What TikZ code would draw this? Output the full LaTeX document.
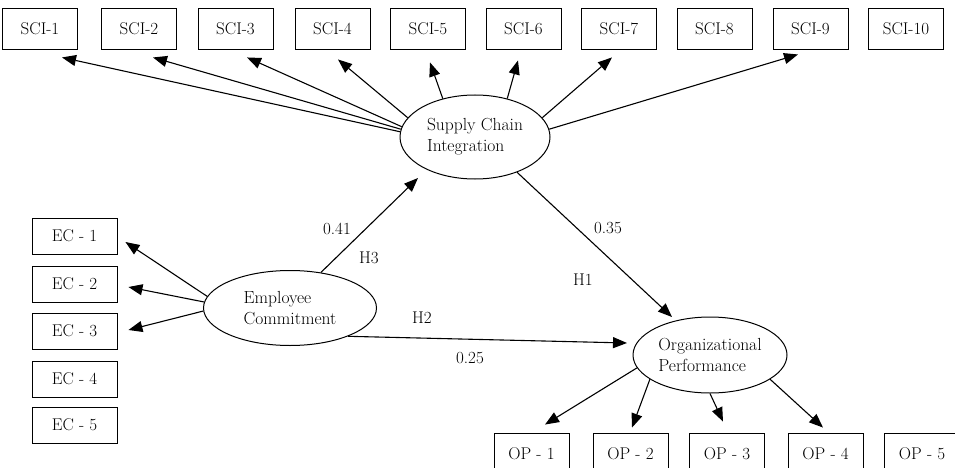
\documentclass[tikz,border=0pt]{standalone}
\usetikzlibrary{shapes.geometric,arrows.meta,calc}
\begin{document}
\begin{tikzpicture}[x=1pt,y=-1pt,
  box/.style={draw,line width=0.9pt,minimum width=75pt,minimum height=41pt,inner sep=0pt,font=\fontsize{17}{20}\selectfont},
  ecbox/.style={box,minimum width=85pt,minimum height=36pt},
  lat/.style={draw,ellipse,line width=1pt,inner ysep=0pt,inner xsep=-6pt,align=left,font=\fontsize{17.5}{21}\selectfont},
  arr/.style={line width=1.1pt,-{Triangle[length=14pt,width=11pt]}},
  lbl/.style={font=\fontsize{17}{20}\selectfont,inner sep=0pt}]
\useasboundingbox (0,0) rectangle (955,468);
% SCI indicators
\node[box] (s1) at (40,28.5) {SCI-1};
\node[box] (s2) at (139,28.5) {SCI-2};
\node[box] (s3) at (235.5,28.5) {SCI-3};
\node[box] (s4) at (332.5,28.5) {SCI-4};
\node[box] (s5) at (428,28.5) {SCI-5};
\node[box] (s6) at (523.5,28.5) {SCI-6};
\node[box] (s7) at (619,28.5) {SCI-7};
\node[box] (s8) at (714.5,28.5) {SCI-8};
\node[box] (s9) at (810.5,28.5) {SCI-9};
\node[box] (s10) at (906,28.5) {SCI-10};
% EC indicators
\node[ecbox] (e1) at (74.5,236) {EC - 1};
\node[ecbox] (e2) at (74.5,284) {EC - 2};
\node[ecbox] (e3) at (74.5,331) {EC - 3};
\node[ecbox] (e4) at (74.5,379) {EC - 4};
\node[ecbox] (e5) at (74.5,425) {EC - 5};
% OP indicators
\node[box] (o1) at (531.5,453.5) {OP - 1};
\node[box] (o2) at (630.5,453.5) {OP - 2};
\node[box] (o3) at (727,453.5) {OP - 3};
\node[box] (o4) at (825.5,453.5) {OP - 4};
\node[box] (o5) at (922,453.5) {OP - 5};
% latent variables
\node[lat,minimum width=150pt,minimum height=84pt] (sci) at (475,137) {Supply Chain\\Integration};
\node[lat,minimum width=173pt,minimum height=75pt] (ec) at (290,308) {Employee\\Commitment};
\node[lat,minimum width=154pt,minimum height=76pt] (op) at (710,355) {Organizational\\Performance};
% SCI loadings
\draw[arr] (sci.176.4) -- ($(s1.south)+(22,8)$);
\draw[arr] (sci.174) -- ($(s2.south)+(14,8)$);
\draw[arr] (sci.172) -- ($(s3.south)+(11.5,8)$);
\draw[arr] (sci.164) -- ($(s4.south)+(5.5,10)$);
\draw[arr] (sci.130) -- ($(s5.south)+(2,13)$);
\draw[arr] (sci.50) -- ($(s6.south)+(-5.5,11)$);
\draw[arr] (sci.16.6) -- ($(s7.south)+(-7,8)$);
\draw[arr] (sci.6) -- ($(s9.south)+(-12.5,5)$);
% EC loadings
\draw[arr] (ec.172.5) -- ($(e1.east)+(8,6)$);
\draw[arr] (ec.176.6) -- ($(e2.east)+(11,3)$);
\draw[arr] (ec.182) -- ($(e3.east)+(11,-1)$);
% OP loadings
\draw[arr] (op.190) -- ($(o1.north)+(13.5,-8)$);
\draw[arr] (op.202) -- ($(o2.north)+(1.5,-5)$);
\draw[arr] (op.270) -- ($(o3.north)+(-4,-11)$);
\draw[arr] (op.-22) -- ($(o4.north)+(-2.5,-5)$);
% structural paths
\draw[arr] (ec.49) -- ($(sci.center)+(-57,41)$);
\draw[arr] (sci.-40) -- ($(op.center)+(-38,-38)$);
\draw[arr] (ec.-26) -- ($(op.center)+(-83,-12)$);
% labels
\node[lbl] (l041) at (337,229) {0.41};
\node[lbl] (lh3) at (369,258) {H3};
\node[lbl] (lh2) at (422,318) {H2};
\node[lbl] (l025) at (470,358) {0.25};
\node[lbl] (l035) at (608,228) {0.35};
\node[lbl] (lh1) at (583,280) {H1};
\end{tikzpicture}
\end{document}
